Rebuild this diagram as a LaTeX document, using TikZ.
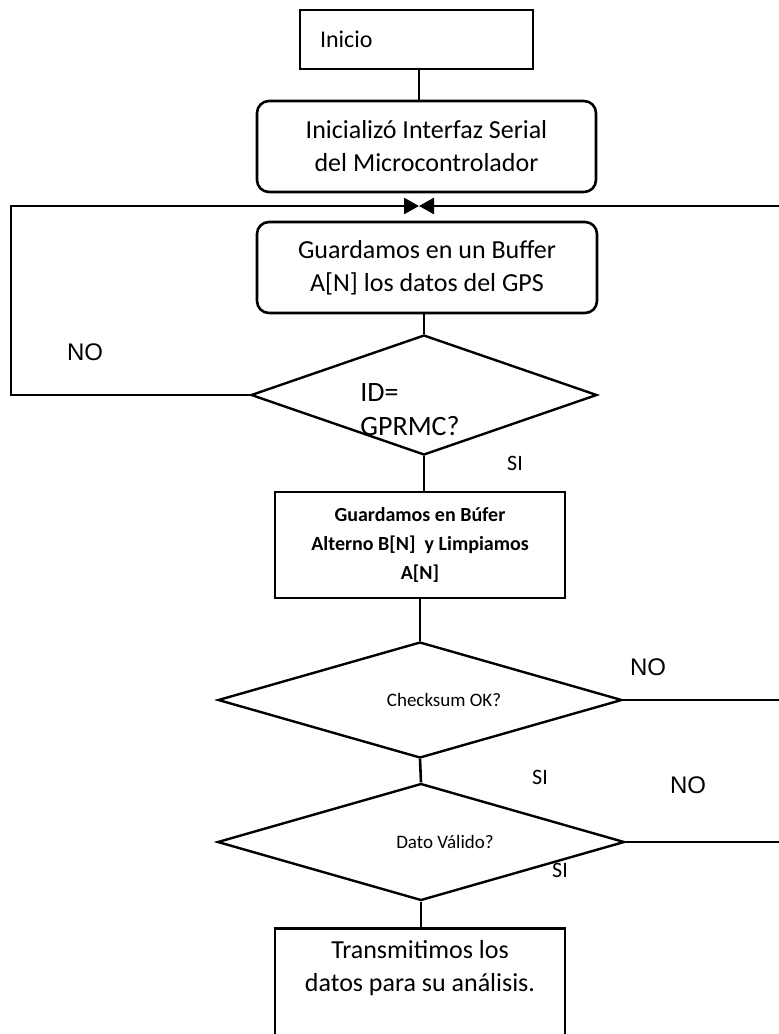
\documentclass[tikz,border=0pt]{standalone}
\usepackage{fontspec}
\setmainfont{Carlito}
\newfontfamily\nofont{Liberation Sans}
\usetikzlibrary{positioning, calc, arrows.meta, shapes, shapes.geometric}
\tikzset{line/.style={draw, line width=2.6pt}}
\tikzset{arr/.style={line, -{Triangle[length=15pt,width=16pt]}}}
\tikzset{dbox/.style={draw, line width=2.6pt, rectangle, inner sep=0pt, align=center}}
\tikzset{dround/.style={dbox, rounded corners=12pt}}
\tikzset{ddiam/.style={draw, line width=2.4pt, diamond, inner sep=0pt, align=center}}
\tikzset{dtext/.style={font=\fontsize{19}{22}\selectfont, xshift=24pt}}
\tikzset{nolab/.style={font=\nofont\fontsize{24}{24}\selectfont}}
\tikzset{silab/.style={font=\fontsize{22}{22}\selectfont}}

\begin{document}
\begin{tikzpicture}[x=1pt, y=-1pt]
    \path[use as bounding box, clip] (0,0) rectangle (779,1034);
    \coordinate (lft) at (11,0);
    \coordinate (rgt) at (784,0);
    \coordinate (join) at (419,206);

    \node[dbox, minimum width=233pt, minimum height=59pt, inner xsep=20pt,
        text width=193pt, align=left, font=\fontsize{24}{28}\selectfont] (inicio) at (416.5,39.5) {Inicio};
    \node[dround, minimum width=339pt, minimum height=91pt,
        font=\fontsize{26}{33}\selectfont] (init) at (426.5,146.5)
        {Inicializó Interfaz Serial\\del Microcontrolador};
    \node[dround, minimum width=340pt, minimum height=91pt,
        font=\fontsize{26}{33}\selectfont] (buf) at (427,267.5)
        {Guardamos en un Buffer\\A[N] los datos del GPS};
    \node[ddiam, minimum width=346pt, minimum height=120pt,
        label={[align=left, font=\fontsize{28}{34}\selectfont, xshift=-14pt, yshift=-15pt]center:ID=\\GPRMC?}]
        (id) at (424,395) {};
    \node[dbox, minimum width=290pt, minimum height=106pt,
        font=\bfseries\fontsize{20}{29}\selectfont] (bfr) at (420,545)
        {Guardamos en Búfer\\Alterno B[N]\ \ y Limpiamos\\A[N]};
    \node[ddiam, minimum width=404pt, minimum height=116pt,
        label={[dtext]center:Checksum OK?}] (chk) at (420,700) {};
    \node[ddiam, minimum width=407pt, minimum height=117pt,
        label={[dtext]center:Dato Válido?}] (dat) at (421,842) {};
    \node[dbox, anchor=north, minimum width=290pt, minimum height=150pt,
        label={[anchor=north, yshift=-10pt, align=center, font=\fontsize{26}{33}\selectfont]north:Transmitimos los\\datos para su análisis.}]
        (tx) at (420,927) {};

    % flow
    \draw[line] (inicio.south -| join) -- (init.north -| join);
    \draw[line] (id.north |- buf.south) -- (id.north);
    \draw[line] (id.south) -- (id.south |- bfr.north);
    \draw[line] (bfr.south) -- (chk.north);
    \draw[line] (chk.south) -- (dat.north);
    \draw[line] (dat.south) -- (dat.south |- tx.north);

    % back to the buffer
    \draw[arr] (id.west) -- (id.west -| lft) |- (join);
    \draw[arr] (chk.east) -- (chk.east -| rgt) |- (join);
    \draw[line] (dat.east) -- (dat.east -| rgt);

    \node[nolab] (no1) at (85,352) {NO};
    \node[nolab] (no2) at (648,667) {NO};
    \node[nolab] (no3) at (688,785) {NO};
    \node[silab] (si1) at (515,463) {SI};
    \node[silab] (si2) at (540,777) {SI};
    \node[silab] (si3) at (560,870) {SI};
\end{tikzpicture}
\end{document}
